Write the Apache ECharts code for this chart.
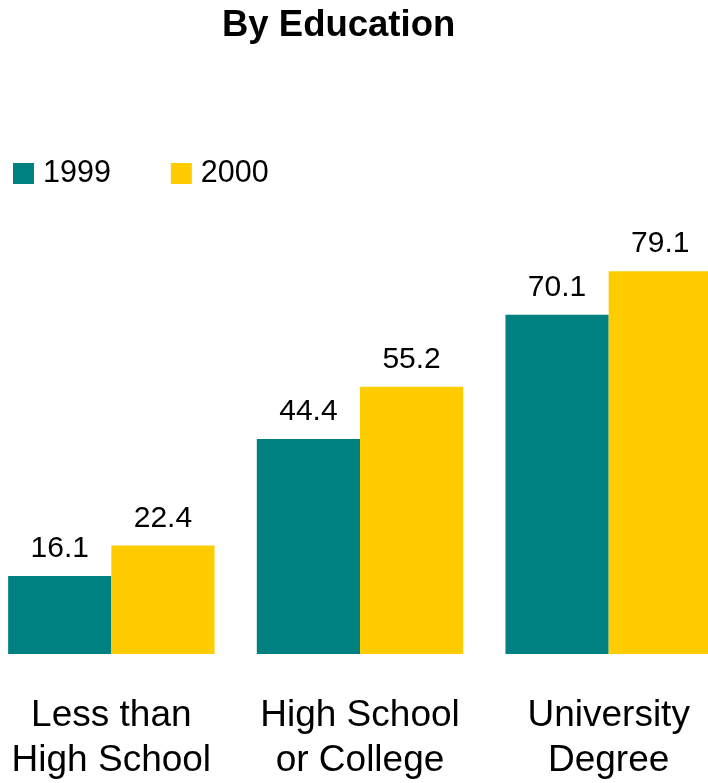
<!DOCTYPE html>
<html>
<head>
<meta charset="utf-8">
<script src="https://cdn.jsdelivr.net/npm/echarts@6/dist/echarts.min.js"></script>
<style>
  html, body { margin: 0; padding: 0; background: #ffffff; overflow: hidden; }
  /* the plot's outer bars run slightly past the page edges, so the canvas is wider than the page */
  #chart { width: 746px; height: 783px; margin-left: -13px; }
</style>
</head>
<body>
<div id="chart"></div>
<script>
// Education categories and survey values for each year
const categories = ['Less than\nHigh School', 'High School\nor College', 'University\nDegree'];
const values1999 = [16.1, 44.4, 70.1];
const values2000 = [22.4, 55.2, 79.1];
const seriesNames = ['1999', '2000'];

const FONT = 'Liberation Sans, Arial, sans-serif';
const SHIFT = 13; // canvas offset to the left of the page

const chart = echarts.init(document.getElementById('chart'));

const valueLabel = {
  show: true,
  position: 'top',
  distance: 12,
  color: '#000000',
  fontFamily: FONT,
  fontSize: 30
};

chart.setOption({
  animation: false,
  backgroundColor: '#ffffff',
  title: {
    text: 'By Education',
    left: 222 + SHIFT,
    top: 7,
    padding: 0,
    textStyle: { fontFamily: FONT, fontWeight: 'bold', fontSize: 36.5, color: '#000000' }
  },
  legend: {
    left: 13 + SHIFT,
    top: 158,
    padding: 0,
    icon: 'rect',
    itemWidth: 21,
    itemHeight: 21,
    itemGap: 60,
    data: seriesNames,
    textStyle: { fontFamily: FONT, fontSize: 30.5, color: '#000000', padding: [0, 0, 0, 4] }
  },
  grid: { left: 0, right: 0, top: 170, bottom: 125, containLabel: false },
  xAxis: {
    type: 'category',
    data: categories,
    axisLine: { show: false },
    axisTick: { show: false },
    axisLabel: {
      margin: 39,
      interval: 0,
      color: '#000000',
      fontFamily: FONT,
      fontSize: 37,
      lineHeight: 45
    }
  },
  yAxis: {
    type: 'value',
    min: 0,
    max: 100,
    show: false,
    splitLine: { show: false }
  },
  series: [
    {
      name: seriesNames[0],
      type: 'bar',
      data: values1999,
      barGap: 0,
      barCategoryGap: '17%',
      itemStyle: { color: '#008080' },
      label: valueLabel
    },
    {
      name: seriesNames[1],
      type: 'bar',
      data: values2000,
      barGap: 0,
      barCategoryGap: '17%',
      itemStyle: { color: '#FFCC00' },
      label: valueLabel
    }
  ]
});
</script>
</body>
</html>
